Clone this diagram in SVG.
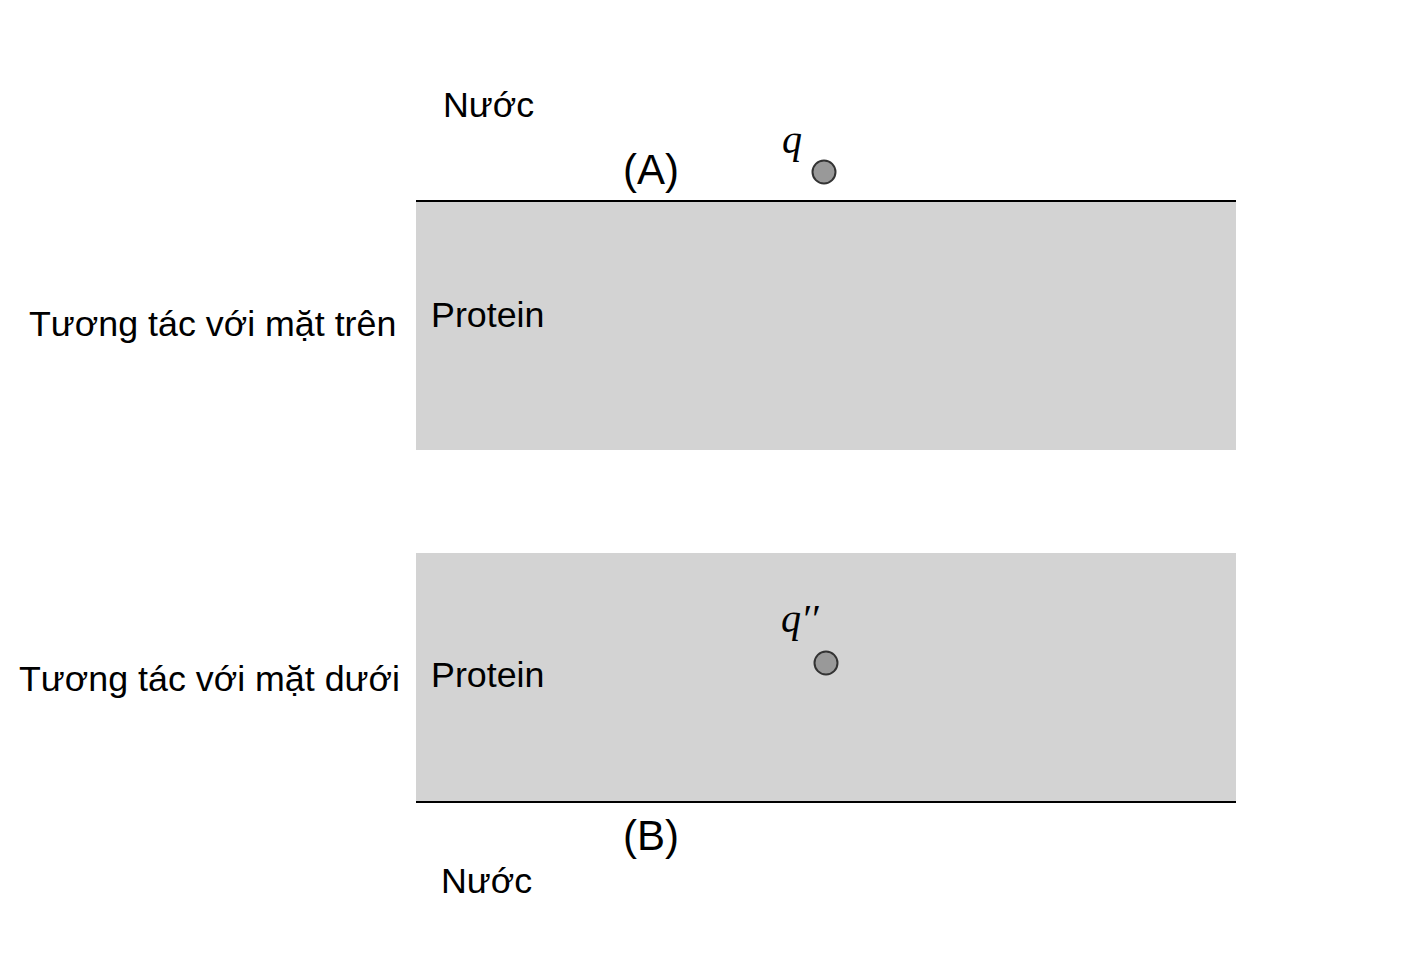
<svg xmlns="http://www.w3.org/2000/svg" width="1404" height="954" viewBox="0 0 1404 954">
<style>
.t{font-family:"Liberation Sans",Arial,sans-serif;font-size:35.8px;fill:#000}
.l{font-family:"Liberation Sans",Arial,sans-serif;font-size:42px;fill:#000}
.q{font-family:"Liberation Serif","DejaVu Serif",serif;font-style:italic;font-size:40px;fill:#000}
.p{fill:#d3d3d3}
.b{stroke:#000;stroke-width:2}
.c{fill:#999;stroke:#333;stroke-width:2}
</style>
<rect width="1404" height="954" fill="#fff"/>
<g id="top-protein">
<rect class="p" x="416" y="201" width="820" height="249"/>
<line class="b" x1="416" y1="201" x2="1236" y2="201"/>
<text class="t" x="431" y="327">Protein</text>
</g>
<g id="bottom-protein">
<rect class="p" x="416" y="553" width="820" height="249"/>
<line class="b" x1="416" y1="802" x2="1236" y2="802"/>
<text class="t" x="431" y="687">Protein</text>
</g>
<g id="labels">
<text class="t" x="443" y="117">Nước</text>
<text class="l" x="623" y="184">(A)</text>
<text class="t" x="29" y="336">Tương tác với mặt trên</text>
<text class="t" x="19" y="691">Tương tác với mặt dưới</text>
<text class="l" x="623" y="850">(B)</text>
<text class="t" x="441" y="893">Nước</text>
</g>
<g id="charge-q">
<text class="q" x="782" y="153">q</text>
<circle class="c" cx="824" cy="172" r="11.5"/>
</g>
<g id="charge-q2">
<text class="q" x="781" y="632">q′′</text>
<circle class="c" cx="826" cy="663" r="11.5"/>
</g>
</svg>
